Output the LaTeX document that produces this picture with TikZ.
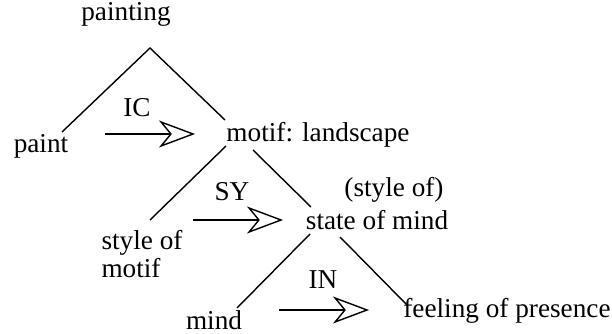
\documentclass[tikz,border=0pt]{standalone}
\usepackage{fontspec}
\setmainfont{Liberation Serif}
\usetikzlibrary{arrows.meta}
\tikzset{word/.style={font=\fontsize{15.5}{16}\selectfont,inner sep=1pt},
  branch/.style={line width=.8pt},
  relarrow/.style={line width=1.1pt,-{Stealth[open,length=.72cm,width=.54cm,inset=.22cm,line width=.8pt]}}}
\begin{document}
\begin{tikzpicture}[x=0.02cm,y=-0.02cm]
\useasboundingbox (0,0) rectangle (612,334);
% nodes of the tree
\node[word] (painting) at (126,14) {painting};
\node[word] (paint) at (41,146) {paint};
\node[word] (motif) at (318,135) {motif: landscape};
\node[word,align=left] (stylemotif) at (142,254) {style of\\motif};
\node[word] (styleof) at (394,190) {(style of)};
\node[word] (state) at (377,220) {state of mind};
\node[word,inner sep=0pt] (mind) at (214,320) {mind};
\node[word] (feeling) at (507,311) {feeling of presence};
\node[word] (ic) at (137,108) {IC}; \node[word] (sy) at (232,192) {SY}; \node[word] (in) at (323,280) {IN};
% ends of branches and arrows
\coordinate (a1) at (150,48); \coordinate (a2) at (62,132); \coordinate (a3) at (225,120);
\coordinate (b1) at (226,146); \coordinate (b2) at (150,220); \coordinate (b3) at (253,150); \coordinate (b4) at (311,207);
\coordinate (c1) at (310,234); \coordinate (c2) at (237,308); \coordinate (c3) at (340,237); \coordinate (c4) at (407,305);
\coordinate (ics) at (105,134); \coordinate (ice) at (195,134);
\coordinate (sys) at (193,220); \coordinate (sye) at (283,220);
\coordinate (ins) at (279,310); \coordinate (ine) at (369,310);
\draw[branch] (a2) -- (a1) -- (a3); \draw[branch] (b1) -- (b2); \draw[branch] (b3) -- (b4);
\draw[branch] (c1) -- (c2); \draw[branch] (c3) -- (c4);
\draw[relarrow] (ics) -- (ice); \draw[relarrow] (sys) -- (sye); \draw[relarrow] (ins) -- (ine);
\end{tikzpicture}
\end{document}
